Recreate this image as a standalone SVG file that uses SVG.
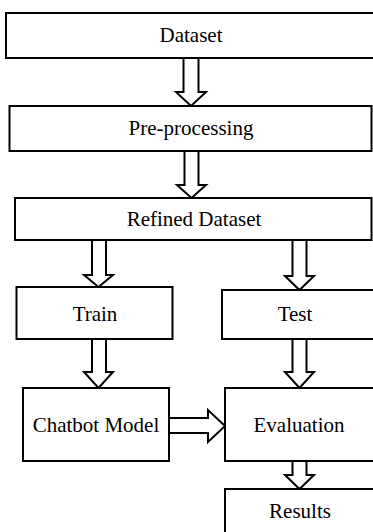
<svg xmlns="http://www.w3.org/2000/svg" width="373" height="532" viewBox="0 0 373 532">
  <style>
    .box { fill: #ffffff; stroke: #000000; stroke-width: 2; }
    .arrow { fill: #ffffff; stroke: #000000; stroke-width: 2; stroke-linejoin: miter; }
    .label { font-family: "Liberation Serif", "Times New Roman", serif; font-size: 21px; fill: #000000; text-anchor: middle; }
  </style>
  <rect x="0" y="0" width="373" height="532" fill="#ffffff"/>

  <!-- block arrows between stages -->
  <g id="connectors">
    <!-- Dataset -> Pre-processing -->
    <polygon class="arrow" points="183.5,58 198.5,58 198.5,92 206,92 191,106 176,92 183.5,92"/>
    <!-- Pre-processing -> Refined Dataset -->
    <polygon class="arrow" points="184.5,151 198.5,151 198.5,185 206,185 191.5,198 177,185 184.5,185"/>
    <!-- Refined Dataset -> Train -->
    <polygon class="arrow" points="92,240 106,240 106,275 113,275 98.5,287 84,275 92,275"/>
    <!-- Refined Dataset -> Test -->
    <polygon class="arrow" points="292.5,240 306.5,240 306.5,276 314,276 299.5,290 285,276 292.5,276"/>
    <!-- Train -> Chatbot Model -->
    <polygon class="arrow" points="92,339 106,339 106,372 113,372 98.5,388 84,372 92,372"/>
    <!-- Test -> Evaluation -->
    <polygon class="arrow" points="292.5,339 306.5,339 306.5,372 314,372 299.5,388 285,372 292.5,372"/>
    <!-- Chatbot Model -> Evaluation -->
    <polygon class="arrow" points="169,418 208,418 208,410 225,426 208,442 208,433 169,433"/>
    <!-- Evaluation -> Results -->
    <polygon class="arrow" points="292.5,461 306.5,461 306.5,475 314,475 299.5,489 285,475 292.5,475"/>
  </g>

  <g id="dataset">
    <rect class="box" x="6" y="13" width="380" height="45"/>
    <text class="label" x="191" y="42">Dataset</text>
  </g>
  <g id="preprocessing">
    <rect class="box" x="9.5" y="106" width="362" height="45"/>
    <text class="label" x="191" y="135">Pre-processing</text>
  </g>
  <g id="refined-dataset">
    <rect class="box" x="15" y="198" width="356.5" height="42"/>
    <text class="label" x="194" y="225.5">Refined Dataset</text>
  </g>
  <g id="train">
    <rect class="box" x="16.5" y="287" width="156" height="52"/>
    <text class="label" x="95" y="321">Train</text>
  </g>
  <g id="test">
    <rect class="box" x="222" y="290" width="160" height="49"/>
    <text class="label" x="295" y="321">Test</text>
  </g>
  <g id="chatbot-model">
    <rect class="box" x="23" y="388" width="146" height="73"/>
    <text class="label" x="96" y="432">Chatbot Model</text>
  </g>
  <g id="evaluation">
    <rect class="box" x="225" y="388" width="160" height="73"/>
    <text class="label" x="299" y="432">Evaluation</text>
  </g>
  <g id="results">
    <rect class="box" x="225" y="489" width="160" height="60"/>
    <text class="label" x="300" y="518">Results</text>
  </g>
</svg>
